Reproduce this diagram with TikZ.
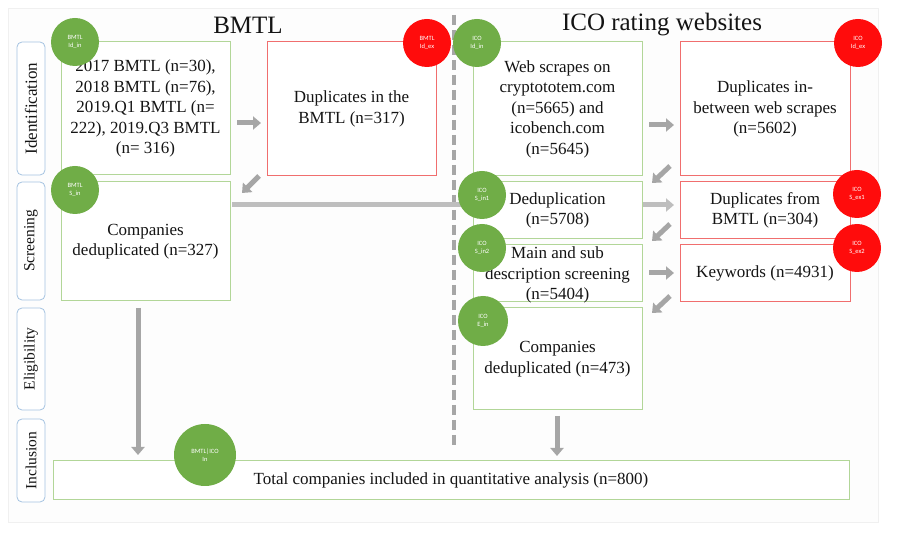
\documentclass[tikz,border=0pt]{standalone}
\usepackage{fontspec}
\setmainfont{Liberation Serif}
\newfontfamily\cirfont{Carlito}
\usetikzlibrary{arrows.meta}
\definecolor{gfill}{RGB}{112,173,71}
\definecolor{rfill}{RGB}{255,12,12}
\definecolor{gline}{RGB}{178,214,152}
\definecolor{rline}{RGB}{240,110,110}
\definecolor{bline}{RGB}{165,195,225}
\definecolor{arr}{RGB}{166,166,166}
\definecolor{arrl}{RGB}{190,190,190}
\definecolor{txt}{RGB}{20,20,20}
\tikzset{
  x=1pt, y=-1pt,
  txtfont/.style={font=\fontsize{17}{20.5}\selectfont, text=txt},
  gbox/.style={draw=gline, line width=1pt, fill=white, inner sep=0pt, align=center, txtfont},
  rbox/.style={draw=rline, line width=1pt, fill=white, inner sep=0pt, align=center, txtfont},
  phase/.style={draw=bline, line width=0.8pt, rounded corners=5pt, fill=white, minimum width=28pt, inner sep=0pt},
  phasetxt/.style={rotate=90, font=\fontsize{15.5}{18}\selectfont, text=txt},
  gcirc/.style={circle, fill=gfill, minimum size=48pt, inner sep=0pt, align=center, text=white, font=\cirfont\fontsize{6.5}{7.5}\selectfont},
  rcirc/.style={circle, fill=rfill, minimum size=48pt, inner sep=0pt, align=center, text=white, font=\cirfont\fontsize{6.5}{7.5}\selectfont},
  flow/.style={draw=arr, line width=5pt, -{Triangle[width=13pt,length=8pt]}},
  flowl/.style={draw=arrl, line width=5pt, -{Triangle[width=13pt,length=8pt]}},
  title/.style={font=\fontsize{25}{28}\selectfont, text=txt},
}
\begin{document}
\begin{tikzpicture}
\useasboundingbox (0,0) rectangle (898,553);
\fill[white] (0,0) rectangle (898,553);
\draw[draw={rgb,255:red,240;green,240;blue,240}, fill={rgb,255:red,253;green,253;blue,253}] (8,8) rectangle (878,522);

% titles
\node[title] (tb) at (248,25) {BMTL};
\node[title] (ti) at (662,25) {ICO rating websites};

% phase labels
\node[phase, minimum height=133pt] (p1) at (31,108.5) {};
\node[phasetxt, font=\fontsize{17}{19}\selectfont] at (p1.center) {Identification};
\node[phase, minimum height=118pt] (p2) at (31,241) {};
\node[phasetxt] at (p2.center) {Screening};
\node[phase, minimum height=102pt] (p3) at (31,359) {};
\node[phasetxt] at (p3.center) {Eligibility};
\node[phase, minimum height=83pt] (p4) at (31,460.5) {};
\node[phasetxt] at (p4.center) {Inclusion};

% dashed divider
\coordinate (dtop) at (454,15);
\coordinate (dbot) at (454,445);
\draw[arr, line width=3.5pt, dash pattern=on 10pt off 5pt] (dtop) -- (dbot);

% long light arrow (behind boxes)
\coordinate (la1) at (232,205);
\coordinate (la2) at (674,205);
\draw[flowl] (la1) -- (la2);

% BMTL boxes
\node[gbox, minimum width=169pt, minimum height=133pt] (b1) at (145.5,108.5)
  {2017 BMTL (n=30),\\2018 BMTL (n=76),\\2019.Q1 BMTL (n=\\222), 2019.Q3 BMTL\\(n= 316)};
\node[rbox, minimum width=169pt, minimum height=134pt] (b2) at (351.5,109)
  {Duplicates in the\\BMTL (n=317)};
\node[gbox, minimum width=169pt, minimum height=119pt] (b3) at (145.5,241.5)
  {Companies\\deduplicated (n=327)};

% ICO boxes
\node[gbox, minimum width=169pt, minimum height=134pt] (i1) at (557.5,109)
  {Web scrapes on\\cryptototem.com\\(n=5665) and\\icobench.com\\(n=5645)};
\node[rbox, minimum width=170pt, minimum height=134pt] (x1) at (765,109)
  {Duplicates in-\\between web scrapes\\(n=5602)};
\node[gbox, minimum width=169pt, minimum height=57pt] (i2) at (557.5,210.5)
  {Deduplication\\(n=5708)};
\node[rbox, minimum width=170pt, minimum height=57pt] (x2) at (765,210.5)
  {Duplicates from\\BMTL (n=304)};
\node[gbox, minimum width=169pt, minimum height=57pt] (i3) at (557.5,273.5) {};
\node[txtfont, align=center, inner sep=0pt] (i3t) at (557.5,275) {Main and sub\\description screening\\(n=5404)};
\node[rbox, minimum width=170pt, minimum height=57pt] (x3) at (765,273.5)
  {Keywords (n=4931)};
\node[gbox, minimum width=169pt, minimum height=102pt] (i4) at (557.5,359)
  {Companies\\deduplicated (n=473)};

% total box
\node[gbox, minimum width=796pt, minimum height=39pt] (tot) at (451,480.5)
  {Total companies included in quantitative analysis (n=800)};

% arrows
\coordinate (a1s) at (237,123); \coordinate (a1e) at (261,123);
\draw[flow] (a1s) -- (a1e);
\coordinate (a2s) at (259,176); \coordinate (a2e) at (242,193);
\draw[flow] (a2s) -- (a2e);
\coordinate (a3s) at (649,125); \coordinate (a3e) at (674,125);
\draw[flow] (a3s) -- (a3e);
\coordinate (a4s) at (670,166); \coordinate (a4e) at (652,183);
\draw[flow] (a4s) -- (a4e);
\coordinate (a5s) at (670,224); \coordinate (a5e) at (652,241);
\draw[flow] (a5s) -- (a5e);
\coordinate (a6s) at (649,273); \coordinate (a6e) at (674,273);
\draw[flow] (a6s) -- (a6e);
\coordinate (a7s) at (670,296); \coordinate (a7e) at (652,313);
\draw[flow] (a7s) -- (a7e);
\coordinate (a8s) at (138,308); \coordinate (a8e) at (138,455);
\draw[flow] (a8s) -- (a8e);
\coordinate (a9s) at (557,416); \coordinate (a9e) at (557,456);
\draw[flow] (a9s) -- (a9e);

% circles
\node[gcirc] (c1) at (75,42) {BMTL\\Id\_in};
\node[rcirc] (c2) at (427,43) {BMTL\\Id\_ex};
\node[gcirc] (c3) at (477,43) {ICO\\Id\_in};
\node[rcirc] (c4) at (858,43) {ICO\\Id\_ex};
\node[gcirc] (c5) at (75,190) {BMTL\\S\_in};
\node[gcirc] (c6) at (482,195) {ICO\\S\_in1};
\node[rcirc] (c7) at (857,194) {ICO\\S\_ex1};
\node[gcirc] (c8) at (482,248) {ICO\\S\_in2};
\node[rcirc] (c9) at (857,248) {ICO\\S\_ex2};
\node[gcirc, minimum size=50pt] (c10) at (483,321) {ICO\\E\_in};
\node[gcirc, minimum size=62pt] (c11) at (205,455) {BMTL|ICO\\In};
\end{tikzpicture}
\end{document}
